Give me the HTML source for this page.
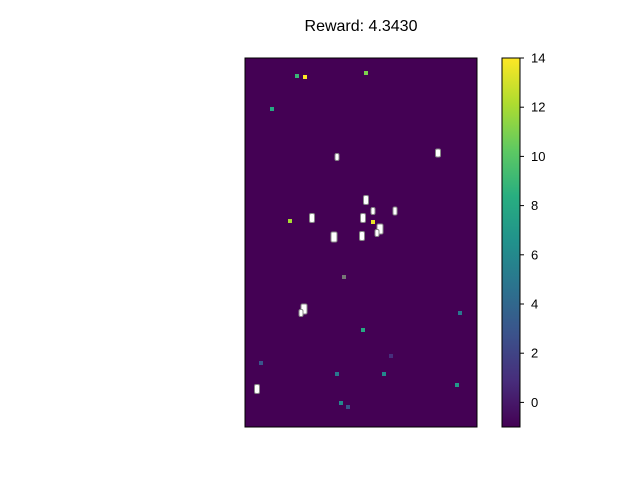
<!DOCTYPE html>
<html><head><meta charset="utf-8"><style>
body{margin:0;background:#fff;font-family:"Liberation Sans",sans-serif}
</style></head><body>
<svg id="c" width="640" height="480" xmlns="http://www.w3.org/2000/svg">
<defs><linearGradient id="vg" x1="0" y1="1" x2="0" y2="0">
<stop offset="0" stop-color="#440154"/><stop offset="0.125" stop-color="#472d7b"/><stop offset="0.25" stop-color="#3b528b"/><stop offset="0.375" stop-color="#2c728e"/><stop offset="0.5" stop-color="#21918c"/><stop offset="0.625" stop-color="#28ae80"/><stop offset="0.75" stop-color="#5ec962"/><stop offset="0.875" stop-color="#addc30"/><stop offset="1" stop-color="#fde725"/></linearGradient></defs>
<text x="361" y="31" text-anchor="middle" font-size="16">Reward: 4.3430</text>
<rect x="245" y="58" width="232" height="369" fill="#440154"/>
<g id="cells"></g><g id="marks"></g>
<rect x="245" y="58" width="232" height="369" fill="none" stroke="#000" stroke-width="1"/>
<rect x="502" y="58" width="18" height="369" fill="url(#vg)" stroke="#000" stroke-width="1"/>
<g id="cbt"></g>
</svg>
<script>
// cell data: position within plot (px from plot origin), value
const cellX=[52,60,121,27,45,128,99,118,215,16,146,92,139,212,96,103];
const cellY=[18,19,15,51,163,164,219,272,255,305,298,316,316,327,345,349];
const cellV=[9,14,11,8,12,13.5,0,8,5,3,1,5,6,7,6,3];
const markX=[92,193,121,128,150,118,67,89,117,135,132,59,56,12];
const markY=[99,95,142,153,153,160,160,179,178,171,175,251,255,331];
const markW=[4,5,5,4,4,5,5,6,5,6,4,6,4,5];
const markH=[7,8,9,7,8,9,9,10,9,10,7,10,7,9];
const ticks=[0,2,4,6,8,10,12,14];
const vmin=-1,vmax=14;
const stops=["#440154","#472d7b","#3b528b","#2c728e","#21918c","#28ae80","#5ec962","#addc30","#fde725"];
function hex(h){return [1,3,5].map(i=>parseInt(h.substr(i,2),16));}
function cmap(v){let t=(v-vmin)/(vmax-vmin)*(stops.length-1);let i=Math.min(Math.floor(t),stops.length-2);let f=t-i;let a=hex(stops[i]),b=hex(stops[i+1]);return "rgb("+a.map((c,k)=>Math.round(c+(b[k]-c)*f)).join(",")+")";}
const px=x=>245+x, py=y=>58+y;
const NS="http://www.w3.org/2000/svg";
const cg=document.getElementById("cells");
cellX.forEach((x,i)=>{const r=document.createElementNS(NS,"rect");
r.setAttribute("x",px(x)-2);r.setAttribute("y",py(cellY[i])-2);r.setAttribute("width",4);r.setAttribute("height",4);
r.setAttribute("fill",cellV[i]===0?"#777":cmap(cellV[i]));


cg.appendChild(r);});
const mg=document.getElementById("marks");
markX.forEach((x,i)=>{const r=document.createElementNS(NS,"rect");
r.setAttribute("x",px(x)-markW[i]/2);r.setAttribute("y",py(markY[i])-markH[i]/2);r.setAttribute("width",markW[i]);r.setAttribute("height",markH[i]);
r.setAttribute("rx",1.5);r.setAttribute("fill","#fff");r.setAttribute("stroke","#888");r.setAttribute("stroke-width",1);


mg.appendChild(r);});
const tg=document.getElementById("cbt");
ticks.forEach(t=>{const y=427-(t-vmin)/(vmax-vmin)*369;
const l=document.createElementNS(NS,"line");l.setAttribute("x1",520);l.setAttribute("x2",524);l.setAttribute("y1",y);l.setAttribute("y2",y);l.setAttribute("stroke","#000");


tg.appendChild(l);
const tx=document.createElementNS(NS,"text");tx.setAttribute("x",531);tx.setAttribute("y",y+4.5);tx.setAttribute("font-size","13");tx.textContent=t;


tg.appendChild(tx);});
</script>
</body></html>
